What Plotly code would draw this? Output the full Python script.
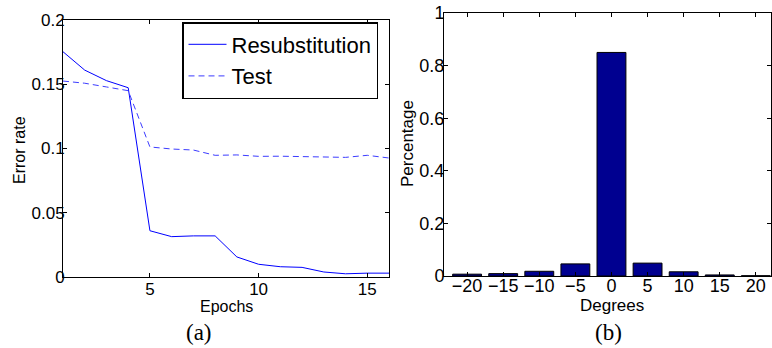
import plotly.graph_objects as go

# ---- data ----
epochs = list(range(1, 17))
resub = [0.1753, 0.161, 0.1528, 0.1473, 0.036, 0.0314, 0.032, 0.032,
         0.0156, 0.0099, 0.008, 0.0075, 0.0039, 0.0025, 0.003, 0.003]
test = [0.1525, 0.1508, 0.1479, 0.145, 0.1012, 0.0996, 0.0988, 0.0947,
        0.095, 0.0939, 0.094, 0.0938, 0.0931, 0.0931, 0.0947, 0.0926]

degrees = [-20, -15, -10, -5, 0, 5, 10, 15, 20]
percentage = [0.007, 0.009, 0.018, 0.046, 0.850, 0.049, 0.016, 0.004, 0.001]

left_yticks = [0, 0.05, 0.1, 0.15, 0.2]
left_xticks = [5, 10, 15]
right_yticks = [0, 0.2, 0.4, 0.6, 0.8, 1]
right_xticks = [-20, -15, -10, -5, 0, 5, 10, 15, 20]

W, H = 772, 348
FONT = "Liberation Sans, Arial, Helvetica, sans-serif"
SERIF = "Liberation Serif, Times New Roman, serif"

fig = go.Figure()
fig.add_trace(go.Scatter(x=epochs, y=resub, mode="lines", name="Resubstitution",
                         line=dict(color="#0000FF", width=1), xaxis="x", yaxis="y"))
fig.add_trace(go.Scatter(x=epochs, y=test, mode="lines", name="Test",
                         line=dict(color="#3c3cff", width=1, dash="6px,4px"), xaxis="x", yaxis="y"))
fig.add_trace(go.Bar(x=degrees, y=percentage, width=4, showlegend=False,
                     marker=dict(color="#000090", line=dict(color="black", width=1)),
                     xaxis="x2", yaxis="y2"))

axcommon = dict(showline=True, linecolor="black", linewidth=1, mirror="ticks",
                ticks="inside", ticklen=4, tickcolor="black", showgrid=False,
                zeroline=False, automargin=False,
                tickfont=dict(family=FONT, size=17, color="black"))
axright = {**axcommon, "tickfont": dict(family=FONT, size=18, color="black")}

fig.update_layout(
    template="none",
    width=W, height=H, margin=dict(l=0, r=0, t=0, b=0, pad=0),
    paper_bgcolor="white", plot_bgcolor="white",
    xaxis=dict(domain=[63 / W, 389 / W], range=[1, 16], tickvals=left_xticks,
               anchor="y", ticklabelstandoff=-3, **axcommon),
    yaxis=dict(domain=[1 - 277 / H, 1 - 20 / H], range=[0, 0.2], tickvals=left_yticks,
               anchor="x", ticklabelstandoff=-6, **axcommon),
    xaxis2=dict(domain=[444 / W, 771 / W], range=[-23.2, 22.1], tickvals=right_xticks,
                anchor="y2", ticklabelstandoff=-7, **axright),
    yaxis2=dict(domain=[1 - 276 / H, 1 - 13 / H], range=[0, 1], tickvals=right_yticks,
                anchor="x2", ticklabelstandoff=-5, **axright),
    legend=dict(x=182 / W, y=1 - 22 / H, xanchor="left", yanchor="top",
                bgcolor="white", bordercolor="black", borderwidth=1.5,
                font=dict(family=FONT, size=22, color="black"),
                itemwidth=38, tracegroupgap=0),
    showlegend=True,
)

def ann(text, x, y, size, family=FONT, angle=0):
    fig.add_annotation(text=text, x=x / W, y=1 - y / H, xref="paper", yref="paper",
                       showarrow=False, xanchor="center", yanchor="middle",
                       textangle=angle, font=dict(family=family, size=size, color="black"))

ann("Epochs", 226, 306, 16)
ann("Error rate", 19, 150, 16, angle=-90)
ann("(a)", 199, 332, 23, family=SERIF)
ann("Degrees", 612, 305, 17)
ann("Percentage", 408, 144, 17, angle=-90)
ann("(b)", 608, 332, 23, family=SERIF)

fig.write_html("out.html", config={"displayModeBar": False},
               post_script="document.body.style.margin='0px';document.body.style.padding='0px';")
